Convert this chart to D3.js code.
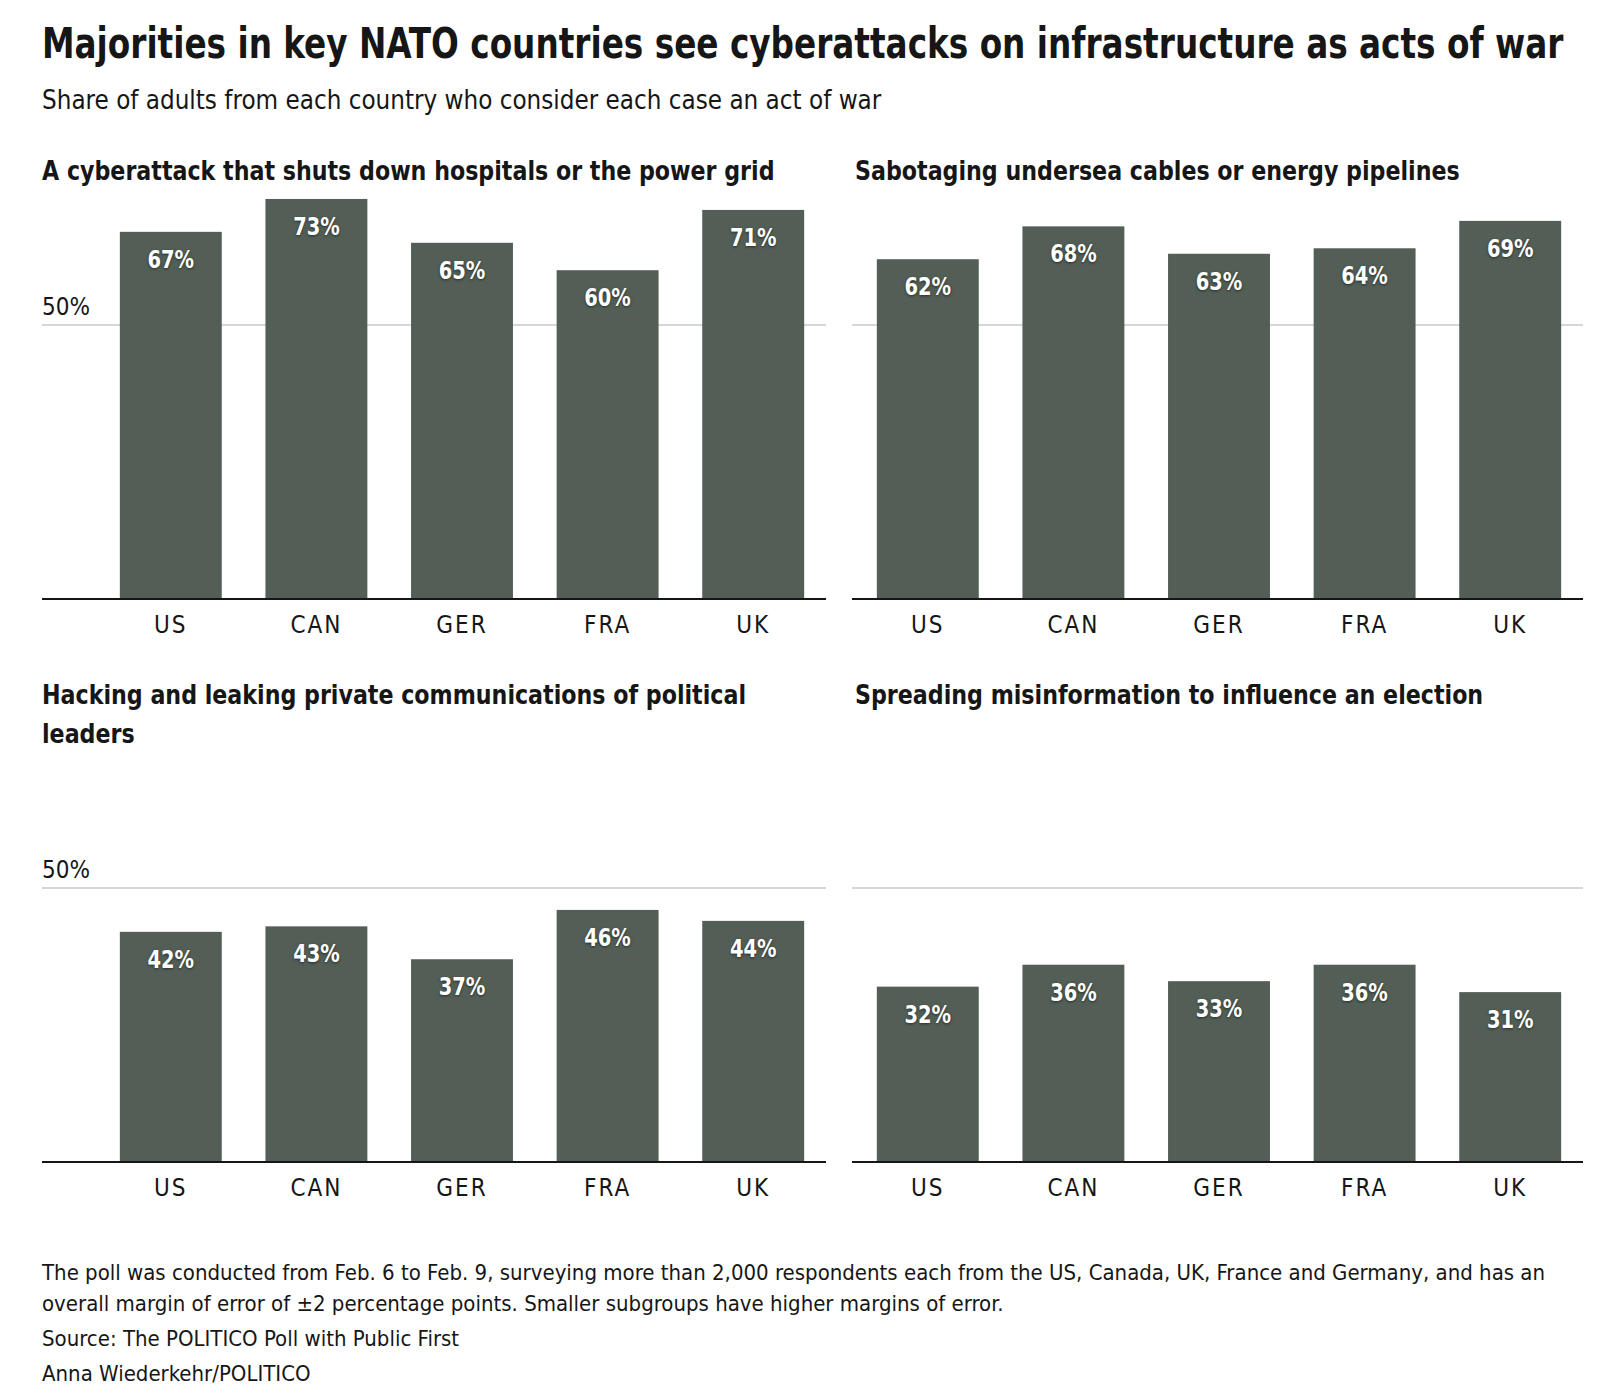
<!DOCTYPE html>
<html>
<head>
<meta charset="utf-8">
<script src="https://cdn.jsdelivr.net/npm/d3@7"></script>
<style>
  body { margin: 0; background: #fff; }
  svg text { font-family: "Liberation Sans Narrow", "DejaVu Sans Condensed", "Roboto", sans-serif; fill: #161616; }
</style>
</head>
<body>
<div id="chart"></div>
<script>

var countries = ["US", "CAN", "GER", "FRA", "UK"];

var panelTitles = [
	["A cyberattack that shuts down hospitals or the power grid"],
	["Sabotaging undersea cables or energy pipelines"],
	["Hacking and leaking private communications of political", "leaders"],
	["Spreading misinformation to influence an election"]
];

var hospitalsGrid   = [67, 73, 65, 60, 71];
var cablesPipelines = [62, 68, 63, 64, 69];
var hackLeak        = [42, 43, 37, 46, 44];
var misinformation  = [32, 36, 33, 36, 31];

var seriesValues = [hospitalsGrid, cablesPipelines, hackLeak, misinformation];

var gridTick = 50;

var titleText = "Majorities in key NATO countries see cyberattacks on infrastructure as acts of war";
var subtitleText = "Share of adults from each country who consider each case an act of war";
var noteLines = [
	"The poll was conducted from Feb. 6 to Feb. 9, surveying more than 2,000 respondents each from the US, Canada, UK, France and Germany, and has an",
	"overall margin of error of \u00b12 percentage points. Smaller subgroups have higher margins of error.",
	"Source: The POLITICO Poll with Public First",
	"Anna Wiederkehr/POLITICO"
];


var W = 1603, H = 1394;
var barColor = "#535f56";

var svg = d3.select("#chart").append("svg")
	.attr("width", W)
	.attr("height", H);

// squeeze a text horizontally (the original face is narrower than ours)
function squeeze(sel, factor)
{
	sel.each(function()
	{
		var len = this.getComputedTextLength();
		d3.select(this)
			.attr("textLength", len * factor)
			.attr("lengthAdjust", "spacingAndGlyphs");
	});
}

// header, scaled with a transform so it ends where the original does
var title = svg.append("text")
	.attr("x", 0).attr("y", 0)
	.style("font-size", "42px")
	.style("font-weight", "bold")
	.text(titleText);
var titleLen = title.node().getComputedTextLength();
title.attr("transform", "translate(42,58) scale(" + (1522 / titleLen) + ",1)");

svg.append("text")
	.attr("x", 42).attr("y", 109)
	.style("font-size", "26px")
	.text(subtitleText)
	.call(squeeze, 0.99);


// panel layout
var cols = [
	{ axisStart: 42, titleX: 42, bandLeft: 98, right: 826, yLabel: true },
	{ axisStart: 852, titleX: 855, bandLeft: 855, right: 1583, yLabel: false }
];
var rows = [
	{ titleY: 180, base: 599 },
	{ titleY: 704, base: 1162 }
];

seriesValues.forEach(function(values, i)
{
	var col = cols[i % 2];
	var row = rows[Math.floor(i / 2)];

	var g = svg.append("g").attr("class", "panel");

	// title, one text per line
	panelTitles[i].forEach(function(line, k)
	{
		g.append("text")
			.attr("x", col.titleX)
			.attr("y", row.titleY + k * 39)
			.style("font-size", "26px")
			.style("font-weight", "bold")
			.text(line)
			.call(squeeze, 0.948);
	});

	var x = d3.scaleBand()
		.domain(countries)
		.range([col.bandLeft, col.right])
		.paddingInner(0.3)
		.paddingOuter(0.15);

	var y = d3.scaleLinear()
		.domain([0, gridTick])
		.range([row.base, row.base - 274]);

	// 50% gridline
	g.append("line")
		.attr("x1", col.axisStart).attr("x2", col.right)
		.attr("y1", y(gridTick)).attr("y2", y(gridTick))
		.attr("stroke", "#c8c8c8")
		.attr("stroke-width", 1.5);

	if (col.yLabel)
	{
		g.append("text")
			.attr("x", col.axisStart)
			.attr("y", y(gridTick) - 10)
			.style("font-size", "24px")
			.text(d3.format(".0%")(gridTick / 100));
	}

	// bars
	g.selectAll("rect.bar")
		.data(values)
		.enter().append("rect")
		.attr("class", "bar")
		.attr("x", function(d, j) { return x(countries[j]); })
		.attr("width", x.bandwidth())
		.attr("y", function(d) { return y(d); })
		.attr("height", function(d) { return y(0) - y(d); })
		.attr("fill", barColor);

	// value labels
	g.selectAll("text.val")
		.data(values)
		.enter().append("text")
		.attr("class", "val")
		.attr("x", function(d, j) { return x(countries[j]) + x.bandwidth() / 2; })
		.attr("y", function(d) { return y(d) + 36; })
		.attr("text-anchor", "middle")
		.style("font-size", "24px")
		.style("font-weight", "bold")
		.style("fill", "#fff")
		.style("text-shadow", "0 1px 3px rgba(0,0,0,0.55)")
		.text(function(d) { return d + "%"; })
		.call(squeeze, 0.9);

	// baseline
	g.append("line")
		.attr("x1", col.axisStart).attr("x2", col.right)
		.attr("y1", y(0)).attr("y2", y(0))
		.attr("stroke", "#161616")
		.attr("stroke-width", 2);

	// country labels
	var xAxis = g.append("g")
		.attr("transform", "translate(0," + y(0) + ")")
		.call(d3.axisBottom(x).tickSize(0).tickPadding(0));
	xAxis.select(".domain").remove();
	xAxis.selectAll("text")
		.attr("dy", null)
		.attr("y", 34)
		.style("font-size", "24px")
		.style("letter-spacing", "2px")
		.style("fill", "#161616");
});


// notes
var noteY = [1280, 1311, 1346, 1381];
svg.selectAll("text.note")
	.data(noteLines)
	.enter().append("text")
	.attr("class", "note")
	.attr("x", 42)
	.attr("y", function(d, i) { return noteY[i]; })
	.style("font-size", "22px")
	.text(function(d) { return d; });

</script>
</body>
</html>
